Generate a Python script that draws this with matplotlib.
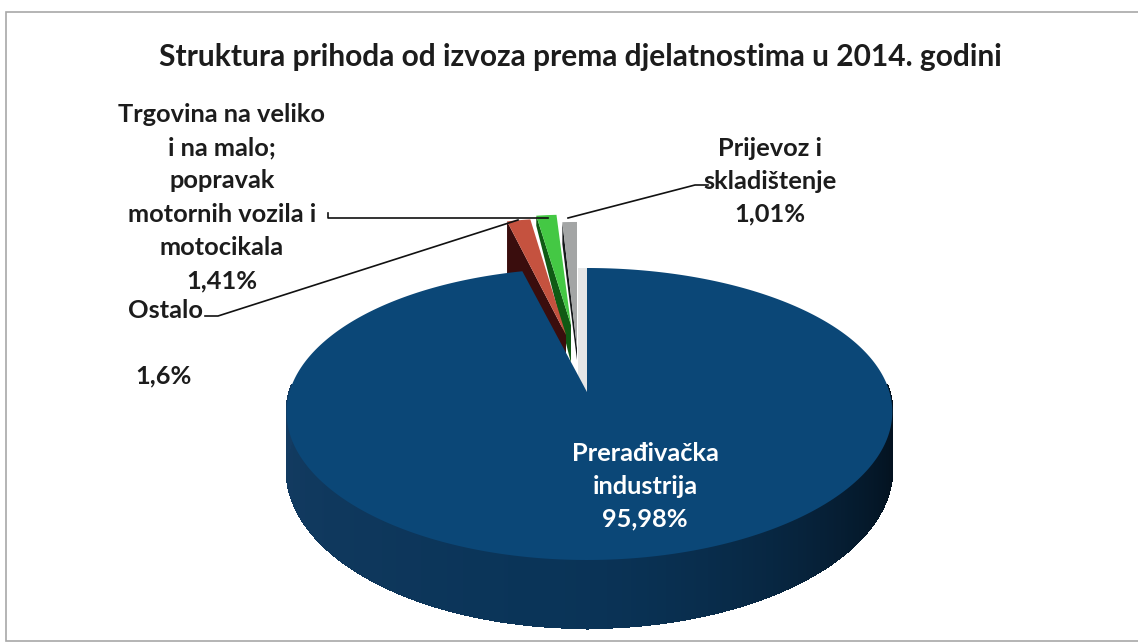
import numpy as np
import matplotlib
matplotlib.use('Agg')
import matplotlib.pyplot as plt
from matplotlib.patches import Polygon, Rectangle

# clockwise from 12 o'clock
categories = ['Prerađivačka\nindustrija', 'Ostalo', 'Trgovina na veliko\ni na malo;\npopravak\nmotornih vozila i\nmotocikala', 'Prijevoz i\nskladištenje']
values = [95.98, 1.6, 1.41, 1.01]
value_labels = ['95,98%', '1,6%', '1,41%', '1,01%']
title = 'Struktura prihoda od izvoza prema djelatnostima u 2014. godini'

top_colors = ['#0b4777', '#c5523f', '#44c844', '#a3a5a5']
side_colors = ['#0a2f50', '#3a0d0d', '#0f5a14', '#15181a']
# pulled out slices: screen shift, radius, x squeeze, wall height at rim and at tip
shifts = [(0, 0), (-21, -57), (-16, -67), (-10, -44)]
radii = [1.0, 0.93, 0.87, 1.02]
squeeze = [1.0, 0.97, 1.0, 0.88]
walls_rim = [0, 54, 10, 22]
walls_tip = [0, 54, 38, 12]

plt.rcParams['font.family'] = ['Lato', 'DejaVu Sans']
TXT = '#1c1c1c'

CX, CY = 587, 392
A = 300
DEPTH = 68


def project(theta, r=1.0):
    # theta in radians, clockwise from the far side, small perspective squeeze
    s, c = np.sin(theta), np.cos(theta)
    x = CX + A * r * s * (1 - 0.14 * r * c) + 2.5 * s * s * r
    y = CY - 146 * r * c + 22 * (r * c) ** 2
    return x, y


fig = plt.figure(figsize=(11.38, 6.44), dpi=100)
ax = fig.add_axes([0, 0, 1, 1])
ax.set_xlim(0, 1138)
ax.set_ylim(644, 0)
ax.axis('off')

ax.add_patch(Rectangle((6, 12), 1140, 629, fc='white', ec='#a8a8a8', lw=1.2))

edges = np.cumsum([0] + values) / sum(values) * 2 * np.pi
starts, ends = edges[:-1], edges[1:]

# small slices first, the big one covers their lower part
for i in [3, 2, 1]:
    dx, dy = shifts[i]
    th = np.linspace(starts[i], ends[i], 20)
    x, y = project(th, radii[i])
    tip_x, tip_y = CX + dx, CY + dy
    x = tip_x + (x - CX) * squeeze[i]
    y = y + dy
    # dark wall on the left side
    ax.add_patch(Polygon([(x[0], y[0]), (tip_x, tip_y), (tip_x, tip_y + walls_tip[i]), (x[0], y[0] + walls_rim[i])],
                         fc=side_colors[i], ec='none', zorder=2 + (4 - i)))
    ax.add_patch(Polygon(np.r_[[(tip_x, tip_y)], np.c_[x, y]], fc=top_colors[i], ec='none', zorder=2.5 + (4 - i)))

# pale cut face next to the big slice
x0, y0 = project(0.0)
x0, y0 = float(x0), float(y0)
ax.add_patch(Polygon([(CX, CY), (x0, y0), (x0 - 9, y0), (CX - 9, CY - 12)],
                     fc='#e6e6e6', ec='none', zorder=7))

# side wall of the big slice, shaded left to right
th = np.linspace(np.pi / 2 - 0.05, 3 * np.pi / 2 + 0.05, 500)
wx, wy = project(th)
wd = DEPTH * (0.82 - 0.18 * np.cos(th))
shade_left = np.array([0x14, 0x3c, 0x62]) / 255
shade_mid = np.array([0x0a, 0x34, 0x58]) / 255
shade_right = np.array([0x03, 0x10, 0x1c]) / 255
for j in range(len(th) - 1):
    f = j / (len(th) - 2)
    if f < 0.55:
        t = f / 0.55
        col = shade_right + (shade_mid - shade_right) * t * t * (3 - 2 * t)
    else:
        col = shade_mid + (shade_left - shade_mid) * (f - 0.55) / 0.45
    ax.add_patch(Polygon([(wx[j], wy[j]), (wx[j + 1], wy[j + 1]),
                          (wx[j + 1], wy[j + 1] + wd[j + 1]), (wx[j], wy[j] + wd[j])],
                         fc=col, ec=col, lw=0.8, antialiased=False, zorder=8))

# top of the big slice
th = np.linspace(starts[0], ends[0], 400)
x, y = project(th)
ax.add_patch(Polygon(np.r_[[(CX, CY)], np.c_[x, y]], fc=top_colors[0], ec='none', zorder=9))

# title and labels
ax.text(580, 57, title, ha='center', va='center', fontsize=21.5, fontweight='bold', color=TXT)
ax.text(645, 486, categories[0] + '\n' + value_labels[0], ha='center', va='center', color='white',
        fontsize=18.3, fontweight='bold', linespacing=1.5, zorder=12)
ax.text(222, 197.5, categories[2] + '\n' + value_labels[2], ha='center', va='center', color=TXT,
        fontsize=18.3, fontweight='bold', linespacing=1.54)
ax.text(770, 181, categories[3] + '\n' + value_labels[3], ha='center', va='center', color=TXT,
        fontsize=18.3, fontweight='bold', linespacing=1.5)
ax.text(166, 310, categories[1], ha='center', va='center', color=TXT, fontsize=18.3, fontweight='bold')
ax.text(164, 376, value_labels[1], ha='center', va='center', color=TXT, fontsize=18.3, fontweight='bold')

# leader lines
ax.plot([328, 328, 548], [213, 217.5, 217.5], color='#111111', lw=1.2, zorder=20)
ax.plot([205, 218, 518], [316, 316, 220], color='#111111', lw=1.2, zorder=20)
ax.plot([708, 695, 568], [185, 185, 218], color='#111111', lw=1.2, zorder=20)

fig.savefig('out.png', dpi=100)
